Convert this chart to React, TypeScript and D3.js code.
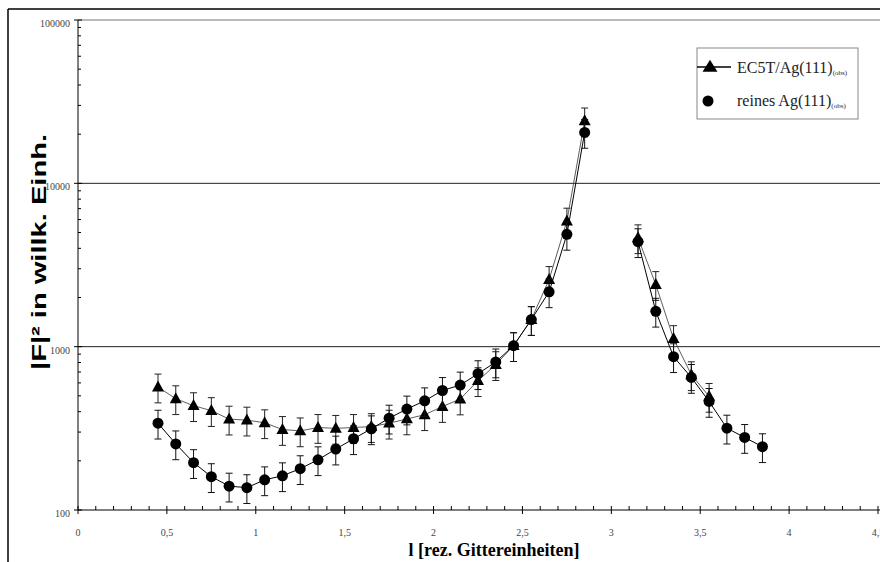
import React from "react";
import * as d3 from "d3";

const W = 880;
const H = 562;

const triX = [0.45, 0.55, 0.65, 0.75, 0.85, 0.95, 1.05, 1.15, 1.25, 1.35, 1.45, 1.55, 1.65, 1.75, 1.85, 1.95, 2.05, 2.15, 2.25, 2.35, 2.45, 2.55, 2.65, 2.75, 2.85, 3.15, 3.25, 3.35, 3.45, 3.55];
const triY = [566, 480, 435, 406, 360, 355, 342, 311, 305, 320, 316, 320, 324, 340, 361, 383, 430, 478, 619, 776, 1014, 1465, 2577, 5870, 24100, 4640, 2400, 1120, 673, 496];

const cirX = [0.45, 0.55, 0.65, 0.75, 0.85, 0.95, 1.05, 1.15, 1.25, 1.35, 1.45, 1.55, 1.65, 1.75, 1.85, 1.95, 2.05, 2.15, 2.25, 2.35, 2.45, 2.55, 2.65, 2.75, 2.85, 3.15, 3.25, 3.35, 3.45, 3.55, 3.65, 3.75, 3.85];
const cirY = [340, 254, 195, 160, 140, 137, 153, 162, 179, 203, 236, 273, 314, 365, 415, 466, 539, 582, 683, 806, 1014, 1465, 2166, 4870, 20500, 4390, 1647, 868, 648, 462, 317, 278, 244];

// percentage error bars (Excel-style)
const relError = 0.2;

const xTickValues = [0, 0.5, 1, 1.5, 2, 2.5, 3, 3.5, 4, 4.5];
const xTickLabels = ["0", "0,5", "1", "1,5", "2", "2,5", "3", "3,5", "4", "4,5"];
const yTickValues = [100, 1000, 10000, 100000];
const yTickLabels = ["100", "1000", "10000", "100000"];

const legendLabels = ["EC5T/Ag(111)", "reines Ag(111)"];

const x = d3.scaleLinear().domain([0, 4.5]).range([78, 878]);
const y = d3.scaleLog().domain([100, 100000]).range([510, 20]);

type P = { x: number; y: number };

function segments(xs: number[], ys: number[]): P[][] {
  const segs: P[][] = [];
  let cur: P[] = [];
  xs.forEach((xv, i) => {
    if (i > 0 && xv - xs[i - 1] > 0.15) {
      segs.push(cur);
      cur = [];
    }
    cur.push({ x: xv, y: ys[i] });
  });
  segs.push(cur);
  return segs;
}

const line = d3
  .line<P>()
  .x((d) => x(d.x))
  .y((d) => y(d.y));

function ErrorBars({ xs, ys, color }: { xs: number[]; ys: number[]; color: string }) {
  return (
    <g stroke={color} strokeWidth={1}>
      {xs.map((xv, i) => {
        const cx = x(xv);
        const top = y(ys[i] * (1 + relError));
        const bot = y(ys[i] * (1 - relError));
        return (
          <g key={i}>
            <line x1={cx} x2={cx} y1={top} y2={bot} />
            <line x1={cx - 3.5} x2={cx + 3.5} y1={top} y2={top} />
            <line x1={cx - 3.5} x2={cx + 3.5} y1={bot} y2={bot} />
          </g>
        );
      })}
    </g>
  );
}

function tri(cx: number, cy: number, w: number, h: number) {
  return `M${cx},${cy - h * 0.6}L${cx + w / 2},${cy + h * 0.4}L${cx - w / 2},${cy + h * 0.4}Z`;
}

export default function App() {
  const minorX = d3.range(0, 45).map((i) => i / 10).filter((v) => Math.abs(v * 2 - Math.round(v * 2)) > 1e-6);
  const minorY: number[] = [];
  [100, 1000, 10000].forEach((dec) => {
    for (let k = 2; k <= 9; k++) minorY.push(dec * k);
  });

  const triSegs = segments(triX, triY);
  const cirSegs = segments(cirX, cirY);

  return (
    <svg
      width={W}
      height={H}
      style={{ position: "absolute", left: 0, top: 0, background: "#fff" }}
      xmlns="http://www.w3.org/2000/svg"
    >
      <rect x={0} y={0} width={W} height={H} fill="#fff" />
      {/* outer frame */}
      <line x1={8} x2={W} y1={9} y2={9} stroke="#000" strokeWidth={1.5} />
      <line x1={8} x2={8} y1={9} y2={H} stroke="#000" strokeWidth={1.5} />

      {/* gridlines */}
      <line x1={78} x2={W} y1={y(100000)} y2={y(100000)} stroke="#777" strokeWidth={1} />
      {[1000, 10000].map((v) => (
        <line key={v} x1={78} x2={W} y1={y(v)} y2={y(v)} stroke="#222" strokeWidth={1} />
      ))}

      {/* y axis */}
      <line x1={78} x2={78} y1={y(100000)} y2={y(100)} stroke="#000" strokeWidth={1} />
      {yTickValues.map((v) => (
        <line key={v} x1={74} x2={82} y1={y(v)} y2={y(v)} stroke="#000" />
      ))}
      {minorY.map((v) => (
        <line key={v} x1={78} x2={81} y1={y(v)} y2={y(v)} stroke="#000" />
      ))}
      {yTickValues.map((v, i) => (
        <text
          key={v}
          x={70}
          y={y(v) + 7}
          textAnchor="end"
          fontFamily="Liberation Serif, serif"
          fontSize={10}
          fill="#444"
        >
          {yTickLabels[i]}
        </text>
      ))}

      {/* x axis */}
      <line x1={78} x2={W} y1={510} y2={510} stroke="#000" strokeWidth={1} />
      {xTickValues.map((v) => (
        <line key={v} x1={x(v)} x2={x(v)} y1={506} y2={514} stroke="#000" />
      ))}
      {minorX.map((v) => (
        <line key={v} x1={x(v)} x2={x(v)} y1={506} y2={510} stroke="#000" />
      ))}
      {xTickValues.map((v, i) => (
        <text
          key={v}
          x={x(v)}
          y={536}
          textAnchor="middle"
          fontFamily="Liberation Serif, serif"
          fontSize={10}
          fill="#444"
        >
          {xTickLabels[i]}
        </text>
      ))}

      {/* axis titles */}
      <text
        x={494}
        y={556}
        textAnchor="middle"
        fontFamily="Liberation Serif, serif"
        fontWeight="bold"
        fontSize={18}
        fill="#000"
      >
        l [rez. Gittereinheiten]
      </text>
      <text
        transform={`translate(46,252) rotate(-90)`}
        textAnchor="middle"
        fontFamily="Liberation Sans, Arial, sans-serif"
        fontWeight="bold"
        fontSize={21}
        textLength={236}
        lengthAdjust="spacingAndGlyphs"
        fill="#000"
      >
        |F|² in willk. Einh.
      </text>

      {/* triangle series */}
      <ErrorBars xs={triX} ys={triY} color="#222" />
      {triSegs.map((s, i) => (
        <path key={i} d={line(s) || ""} fill="none" stroke="#333" strokeWidth={0.8} />
      ))}
      {triX.map((xv, i) => (
        <path key={i} d={tri(x(xv), y(triY[i]), 12, 11)} fill="#000" />
      ))}

      {/* circle series */}
      <ErrorBars xs={cirX} ys={cirY} color="#111" />
      {cirSegs.map((s, i) => (
        <path key={i} d={line(s) || ""} fill="none" stroke="#000" strokeWidth={1} />
      ))}
      {cirX.map((xv, i) => (
        <circle key={i} cx={x(xv)} cy={y(cirY[i])} r={5.5} fill="#000" />
      ))}

      {/* legend */}
      <rect x={697} y={48} width={161} height={71} fill="#fff" stroke="#888" strokeWidth={1} />
      <line x1={697} x2={731} y1={67} y2={67} stroke="#000" strokeWidth={1.5} />
      <path d={tri(710, 67, 15, 12)} fill="#000" />
      <circle cx={708} cy={101} r={5.5} fill="#000" />
      <text x={737} y={73} fontFamily="Liberation Serif, serif" fontSize={16} fill="#222">
        {legendLabels[0]}
        <tspan fontSize={7} dy={2}>(obs)</tspan>
      </text>
      <text x={737} y={106} fontFamily="Liberation Serif, serif" fontSize={16} fill="#222">
        {legendLabels[1]}
        <tspan fontSize={7} dy={2}>(obs)</tspan>
      </text>
    </svg>
  );
}
